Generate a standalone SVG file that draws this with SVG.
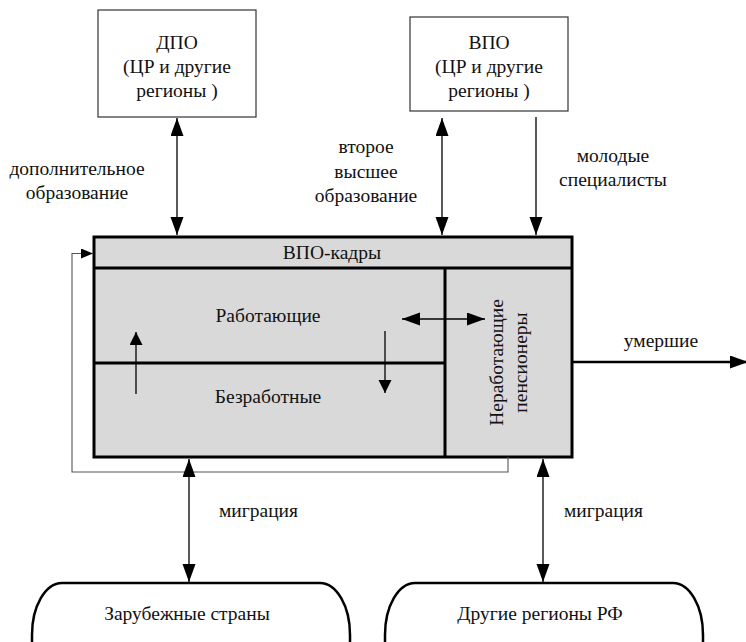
<svg xmlns="http://www.w3.org/2000/svg" width="746" height="642" viewBox="0 0 746 642">
<style>
text{font-family:'Liberation Serif','Times New Roman','DejaVu Serif',serif;font-size:19.5px;fill:#111;text-anchor:middle}
.st{text-anchor:start}
.box{fill:#fff;stroke:#333;stroke-width:1.2}
.main{fill:#d9d9d9;stroke:#000;stroke-width:3}
.div{stroke:#000;stroke-width:3;fill:none}
.c{stroke:#000;stroke-width:1.3;fill:none}
.fb{stroke:#555;stroke-width:1.1;fill:none}
.oval{fill:#fff;stroke:#000;stroke-width:2.5}
</style>
<defs>
<marker id="a" markerUnits="userSpaceOnUse" markerWidth="19" markerHeight="14" refX="18" refY="6.5" orient="auto-start-reverse"><path d="M0,0 L18,6.5 L0,13 z" fill="#000"/></marker>
<marker id="b" markerUnits="userSpaceOnUse" markerWidth="14" markerHeight="14" refX="13" refY="6.5" orient="auto"><path d="M0,0 L13,6.5 L0,13 z" fill="#000"/></marker>
<marker id="f" markerUnits="userSpaceOnUse" markerWidth="13" markerHeight="11" refX="12" refY="5" orient="auto"><path d="M0,0 L12,5 L0,10 z" fill="#000"/></marker>
</defs>

<g font-family="Liberation Serif, serif">
<g id="dpo">
<rect class="box" x="98" y="10" width="158" height="107"/>
<text x="177" y="49">ДПО</text>
<text x="177" y="73">(ЦР и другие</text>
<text x="177" y="97">регионы )</text>
</g>

<g id="vpo">
<rect class="box" x="410" y="17" width="158" height="94"/>
<text x="489" y="49">ВПО</text>
<text x="489" y="73">(ЦР и другие</text>
<text x="489" y="97">регионы )</text>
</g>

<g id="vpo-kadry">
<rect class="main" x="94" y="237" width="478" height="220"/>
<line class="div" x1="94" y1="268" x2="572" y2="268"/>
<line class="div" x1="445" y1="268" x2="445" y2="457"/>
<line class="div" x1="94" y1="363" x2="445" y2="363"/>
<text x="332" y="259">ВПО-кадры</text>
</g>
<g id="working"><text x="268" y="322">Работающие</text></g>
<g id="unemployed"><text x="268" y="403">Безработные</text></g>
<g id="pensioners">
<text transform="translate(503,362.5) rotate(-90)">Неработающие</text>
<text transform="translate(527,362.5) rotate(-90)">пенсионеры</text>
</g>

<g id="foreign">
<rect class="oval" x="32" y="583" width="318" height="110" rx="30" ry="52"/>
<text x="187" y="620">Зарубежные страны</text>
</g>
<g id="regions">
<rect class="oval" x="385" y="583" width="318" height="110" rx="30" ry="52"/>
<text x="540" y="620">Другие регионы РФ</text>
</g>

<g id="connectors">
<line class="c" x1="177" y1="118" x2="177" y2="235" marker-start="url(#a)" marker-end="url(#a)"/>
<line class="c" x1="442" y1="118" x2="442" y2="235" marker-start="url(#a)" marker-end="url(#a)"/>
<line class="c" x1="536" y1="117" x2="536" y2="235" marker-end="url(#a)"/>
<line class="c" x1="136" y1="394" x2="136" y2="332" marker-end="url(#b)"/>
<line class="c" x1="385" y1="331" x2="385" y2="393" marker-end="url(#b)"/>
<line class="c" x1="402" y1="319" x2="485" y2="319" marker-start="url(#a)" marker-end="url(#a)"/>
<line x1="573" y1="362" x2="748" y2="362" stroke="#000" stroke-width="2.5" marker-end="url(#a)"/>
<path class="fb" d="M508,457 V472 H72 V253.5 H93" marker-end="url(#f)"/>
<line class="c" x1="189" y1="459" x2="189" y2="582" marker-start="url(#a)" marker-end="url(#a)"/>
<line class="c" x1="543" y1="459" x2="543" y2="582" marker-start="url(#a)" marker-end="url(#a)"/>
<text x="77" y="175">дополнительное</text>
<text x="77" y="199">образование</text>
<text x="366" y="153">второе</text>
<text x="366" y="178">высшее</text>
<text x="366" y="202">образование</text>
<text x="613" y="162">молодые</text>
<text x="613" y="186">специалисты</text>
<text x="661" y="347">умершие</text>
<text class="st" x="219" y="517">миграция</text>
<text class="st" x="564" y="517">миграция</text>
</g>
</g>
</svg>
